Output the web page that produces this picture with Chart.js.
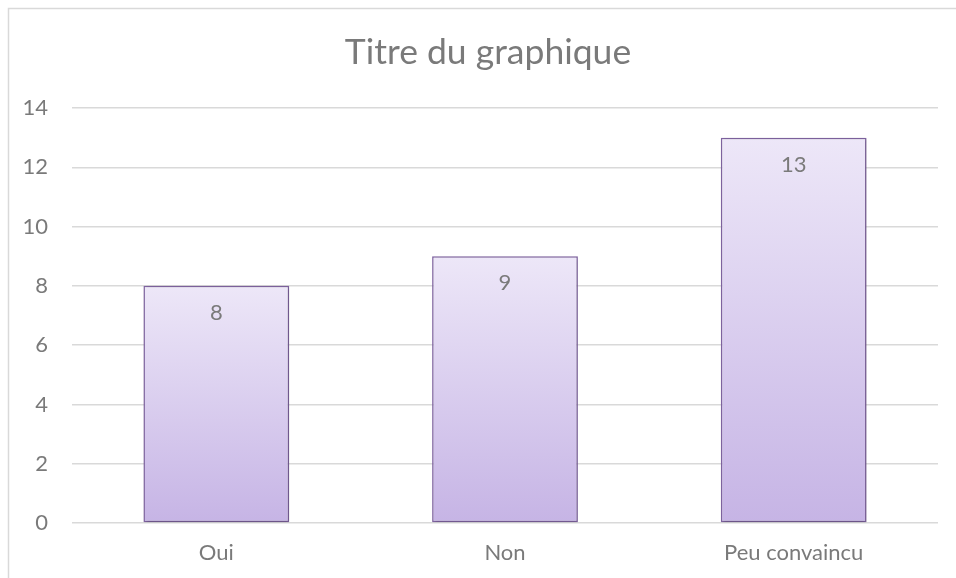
<!DOCTYPE html>
<html>
<head>
<meta charset="utf-8">
<script src="https://cdn.jsdelivr.net/npm/chart.js@4/dist/chart.umd.min.js"></script>
<style>
    html, body { margin: 0; padding: 0; background: #fff; }
    #wrap { width: 956px; height: 578px; position: relative; }
</style>
</head>
<body>
<div id="wrap"><canvas id="barChart"></canvas></div>
<script>
const categories = ["Oui", "Non", "Peu convaincu"];
const values = [8, 9, 13];
const titleText = "Titre du graphique";
const yMax = 14;
const yStep = 2;

const textColor = '#7a7a7a';
const fontFamily = 'Lato, "Open Sans", sans-serif';

// Excel-style outer frame (left and top edges only, the rest is cropped)
const framePlugin = {
    id: 'frame',
    beforeDraw(chart) {
        const ctx = chart.ctx;
        ctx.save();
        ctx.strokeStyle = '#d9d9d9';
        ctx.lineWidth = 1.5;
        ctx.beginPath();
        ctx.moveTo(8.5, chart.height);
        ctx.lineTo(8.5, 8.5);
        ctx.lineTo(chart.width, 8.5);
        ctx.stroke();
        ctx.restore();
    }
};

// chart title, centred on the whole frame like Excel does
const titlePlugin = {
    id: 'excelTitle',
    afterDraw(chart) {
        const ctx = chart.ctx;
        ctx.save();
        ctx.fillStyle = textColor;
        ctx.font = '35.5px ' + fontFamily;
        ctx.textAlign = 'center';
        ctx.textBaseline = 'alphabetic';
        ctx.fillText(titleText, 488, 64);
        ctx.restore();
    }
};

// soft drop shadow under the bars
const shadowPlugin = {
    id: 'barShadow',
    beforeDatasetsDraw(chart) {
        const ctx = chart.ctx;
        ctx.save();
        ctx.shadowColor = 'rgba(0, 0, 0, 0.25)';
        ctx.shadowBlur = 3;
        ctx.shadowOffsetX = 1;
        ctx.shadowOffsetY = 1;
    },
    afterDatasetsDraw(chart) {
        chart.ctx.restore();
    }
};

// value labels inside the top of each bar
const valueLabels = {
    id: 'valueLabels',
    afterDatasetsDraw(chart) {
        const ctx = chart.ctx;
        const meta = chart.getDatasetMeta(0);
        ctx.save();
        ctx.fillStyle = textColor;
        ctx.font = '22px ' + fontFamily;
        ctx.textAlign = 'center';
        ctx.textBaseline = 'middle';
        meta.data.forEach((bar, i) => {
            ctx.fillText(String(values[i]), bar.x, bar.y + 27);
        });
        ctx.restore();
    }
};

function barGradient(context) {
    const chart = context.chart;
    const yScale = chart.scales.y;
    if (!yScale || context.dataIndex == null) return '#d8cbee';
    const top = yScale.getPixelForValue(values[context.dataIndex]);
    const bottom = yScale.getPixelForValue(0);
    if (!isFinite(top) || !isFinite(bottom) || top === bottom) return '#d8cbee';
    const g = chart.ctx.createLinearGradient(0, top, 0, bottom);
    g.addColorStop(0, '#ede7f8');
    g.addColorStop(1, '#c6b4e5');
    return g;
}

const ctx = document.getElementById('barChart').getContext('2d');
new Chart(ctx, {
    type: 'bar',
    data: {
        labels: categories,
        datasets: [{
            data: values,
            backgroundColor: barGradient,
            borderColor: '#8064a2',
            borderWidth: 1.5,
            borderSkipped: false,
            barPercentage: 0.505,
            categoryPercentage: 1
        }]
    },
    options: {
        responsive: true,
        maintainAspectRatio: false,
        animation: false,
        layout: {
            padding: { left: 12, right: 18, top: 108, bottom: 0 }
        },
        plugins: {
            legend: { display: false },
            tooltip: { enabled: false },
            title: { display: false }
        },
        scales: {
            x: {
                grid: { display: false, drawTicks: false },
                border: { display: false },
                ticks: {
                    color: textColor,
                    font: { family: fontFamily, size: 22 },
                    padding: 17,
                    maxRotation: 0
                },
                afterFit: s => { s.height = 55; }
            },
            y: {
                min: 0,
                max: yMax,
                grid: { color: '#d9d9d9', lineWidth: 1.5, drawTicks: false },
                border: { display: false },
                ticks: {
                    stepSize: yStep,
                    color: textColor,
                    font: { family: fontFamily, size: 22 },
                    padding: 24
                },
                afterFit: s => { s.width = 60; }
            }
        }
    },
    plugins: [framePlugin, titlePlugin, shadowPlugin, valueLabels]
});
</script>
</body>
</html>
